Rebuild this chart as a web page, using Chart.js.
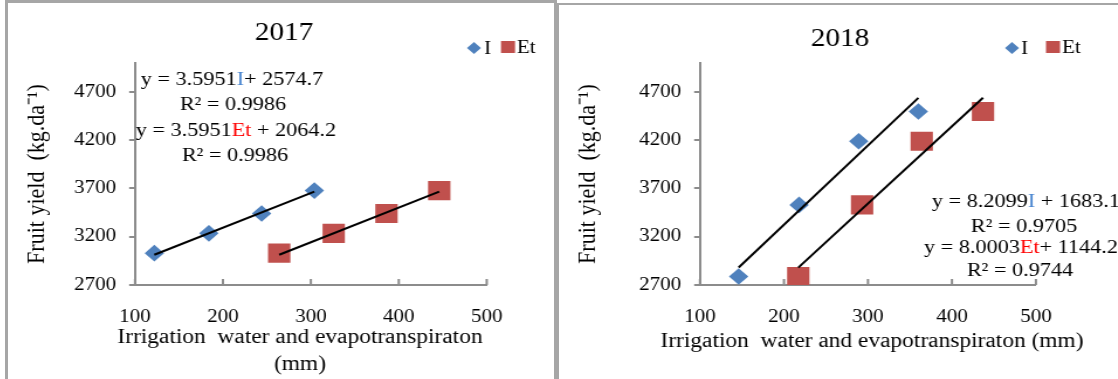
<!DOCTYPE html>
<html>
<head>
<meta charset="utf-8">
<script src="https://cdn.jsdelivr.net/npm/chart.js@4.4.1/dist/chart.umd.min.js"></script>
<style>
  body { margin: 0; background: #fff; width: 1118px; height: 379px; overflow: hidden; position: relative; }
  .panel { position: absolute; border: 3px solid #a6a6a6; border-bottom: none; }
  canvas { position: absolute; transform-origin: 0 0; transform: scaleX(1.17); }
</style>
</head>
<body>
<div class="panel" style="left:5px;top:0;width:546px;height:400px"></div>
<div class="panel" style="left:557px;top:3px;width:600px;height:400px;border-width:2px"></div>
<!-- the source figure is stretched sideways, so each canvas is drawn narrow and scaled by 1.17 -->
<canvas id="chart2017" width="463" height="374" style="left:10px;top:5px;width:463px;height:374px"></canvas>
<canvas id="chart2018" width="476" height="374" style="left:561px;top:5px;width:476px;height:374px"></canvas>
<script>
// ---- data ----
const xTicks = [100, 200, 300, 400, 500];
const yTicks = [2700, 3200, 3700, 4200, 4700];

// 2017
const irr2017 = [122, 184, 244, 304];
const et2017 = [264, 326, 386, 446];
const yield2017 = [3030, 3235, 3440, 3678];
const fitI2017 = [3.5951, 2574.7];
const fitEt2017 = [3.5951, 2064.2];

// 2018
const irr2018 = [146, 218, 289, 360];
const et2018 = [217, 293, 364, 437];
const yield2018 = [2788, 3530, 4190, 4497];
const fitI2018 = [8.2099, 1683.1];
const fitEt2018 = [8.0003, 1144.2];

const S = 1.17;            // horizontal stretch of the page
const BLUE = '#4f81bd';
const RED = '#c0504d';
const AXIS = '#8c8c8c';
const SERIF = '"Liberation Serif", "Times New Roman", serif';

// page offset (px from the canvas' left edge) -> canvas x
const cx = v => v / S;

// trend line over the x range of the series, from the fitted equation
function trend(xs, fit) {
  const lo = Math.min(...xs), hi = Math.max(...xs);
  return [{ x: lo, y: fit[0] * lo + fit[1] }, { x: hi, y: fit[0] * hi + fit[1] }];
}

function points(xs, ys) {
  return xs.map((x, i) => ({ x, y: ys[i] }));
}

// title, legend, equations, x axis title and inside x tick marks
function annotations(cfg) {
  return {
    id: 'annotations',
    afterDraw(chart) {
      const ctx = chart.ctx;
      ctx.save();
      ctx.textBaseline = 'middle';

      ctx.fillStyle = '#000';
      ctx.textAlign = 'center';
      ctx.font = '25px ' + SERIF;
      ctx.fillText(cfg.title, cx(cfg.titleAt[0]), cfg.titleAt[1]);

      // x axis title (Chart.js would squeeze it into the plot width)
      ctx.font = '20px ' + SERIF;
      cfg.xTitle.forEach((line, i) => {
        ctx.fillText(line, cx(cfg.xTitleAt[0]), cfg.xTitleAt[1] + i * 27);
      });

      // legend
      ctx.font = '18px ' + SERIF;
      ctx.textAlign = 'left';
      cfg.legend.forEach(item => {
        const ds = chart.data.datasets[item.ds];
        ctx.fillStyle = ds.backgroundColor;
        ctx.strokeStyle = ds.backgroundColor;
        Chart.helpers.drawPoint(ctx, { pointStyle: ds.pointStyle, radius: item.r, borderWidth: 0 }, cx(item.at[0]), item.at[1]);
        ctx.fillStyle = '#000';
        ctx.fillText(ds.label, cx(item.textX), item.at[1] + 1);
      });

      // regression equations
      ctx.font = '19px ' + SERIF;
      cfg.equations.forEach((segs, i) => {
        const total = segs.reduce((w, s) => w + ctx.measureText(s[0]).width, 0);
        let x = cx(cfg.eqAt[i][0]) - total / 2;
        segs.forEach(([t, c]) => {
          ctx.fillStyle = c;
          ctx.fillText(t, x, cfg.eqAt[i][1]);
          x += ctx.measureText(t).width;
        });
      });

      // x ticks point inward
      const xs = chart.scales.x;
      ctx.strokeStyle = AXIS;
      ctx.lineWidth = 2;
      xTicks.forEach(v => {
        const px = xs.getPixelForValue(v);
        ctx.beginPath();
        ctx.moveTo(px, xs.top);
        ctx.lineTo(px, xs.top - 6);
        ctx.stroke();
      });
      ctx.restore();
    }
  };
}

function makeChart(id, opt) {
  const tickFont = { family: SERIF, size: 18 };
  const yTitleFont = { family: SERIF, size: 22, lineHeight: 1.35 };
  return new Chart(document.getElementById(id), {
    type: 'scatter',
    data: {
      datasets: [
        {
          label: 'I', data: points(opt.irr, opt.yld), pointStyle: 'rectRot',
          pointRadius: 8.3, pointHoverRadius: 8.3, backgroundColor: BLUE, borderColor: BLUE, borderWidth: 0, order: 1
        },
        {
          label: 'Et', data: points(opt.et, opt.yld), pointStyle: 'rect',
          pointRadius: 13.5, pointHoverRadius: 13.5, backgroundColor: RED, borderColor: RED, borderWidth: 0, order: 1
        },
        { label: 'trend I', data: trend(opt.irr, opt.fitI), showLine: true, borderColor: '#000', borderWidth: 2, pointRadius: 0, order: 0 },
        { label: 'trend Et', data: trend(opt.et, opt.fitEt), showLine: true, borderColor: '#000', borderWidth: 2, pointRadius: 0, order: 0 }
      ]
    },
    options: {
      responsive: false,
      animation: false,
      events: [],
      layout: { padding: { top: 58, right: cx(opt.padRight), bottom: 0, left: 0 } },
      plugins: { legend: { display: false }, tooltip: { enabled: false } },
      scales: {
        x: {
          type: 'linear', min: 100, max: 500,
          afterBuildTicks: s => { s.ticks = xTicks.map(v => ({ value: v })); },
          afterFit: s => { s.height = 94; },
          grid: { display: false },
          border: { display: true, color: AXIS, width: 2 },
          ticks: { font: tickFont, color: '#000', padding: 13, maxRotation: 0, autoSkip: false, callback: v => String(v) }
        },
        y: {
          type: 'linear', min: 2700, max: 5000,
          afterBuildTicks: s => { s.ticks = yTicks.map(v => ({ value: v })); },
          afterFit: s => { s.width = cx(opt.yWidth); },
          grid: { display: true, drawOnChartArea: false, drawTicks: true, tickLength: 5, color: AXIS, lineWidth: 2 },
          border: { display: true, color: AXIS, width: 2 },
          ticks: { font: tickFont, color: '#000', padding: 11, callback: v => String(v) },
          title: { display: true, text: 'Fruit yield  (kg.da\u207B\u00B9)', font: yTitleFont, color: '#000', padding: { top: 8, bottom: 0 } }
        }
      }
    },
    plugins: [annotations(opt.notes)]
  });
}

// positions in notes/padRight/yWidth are page pixels from the canvas' left edge
makeChart('chart2017', {
  irr: irr2017, et: et2017, yld: yield2017, fitI: fitI2017, fitEt: fitEt2017,
  padRight: 65, yWidth: 125,
  notes: {
    title: '2017', titleAt: [274, 28],
    xTitle: ['Irrigation  water and evapotranspiraton', '(mm)'], xTitleAt: [290, 333],
    legend: [
      { ds: 0, r: 6, at: [464, 43], textX: 474 },
      { ds: 1, r: 8.5, at: [498, 42], textX: 507 }
    ],
    equations: [
      [['y = 3.5951', '#000'], ['I', '#4a86d0'], ['+ 2574.7', '#000']],
      [['R\u00B2 = 0.9986', '#000']],
      [['y = 3.5951', '#000'], ['Et', '#ff0000'], [' + 2064.2', '#000']],
      [['R\u00B2 = 0.9986', '#000']]
    ],
    eqAt: [[222, 75], [223, 100], [226, 126], [225, 151]]
  }
});

makeChart('chart2018', {
  irr: irr2018, et: et2018, yld: yield2018, fitI: fitI2018, fitEt: fitEt2018,
  padRight: 82, yWidth: 139,
  notes: {
    title: '2018', titleAt: [279, 34],
    xTitle: ['Irrigation  water and evapotranspiraton (mm)'], xTitleAt: [311, 337],
    legend: [
      { ds: 0, r: 6, at: [451, 43], textX: 460 },
      { ds: 1, r: 8.5, at: [492, 42], textX: 501 }
    ],
    equations: [
      [['y = 8.2099', '#000'], ['I', '#4a86d0'], [' + 1683.1', '#000']],
      [['R\u00B2 = 0.9705', '#000']],
      [['y = 8.0003', '#000'], ['Et', '#ff0000'], ['+ 1144.2', '#000']],
      [['R\u00B2 = 0.9744', '#000']]
    ],
    eqAt: [[465, 197], [463, 222], [460, 243], [459, 266]]
  }
});
</script>
</body>
</html>
